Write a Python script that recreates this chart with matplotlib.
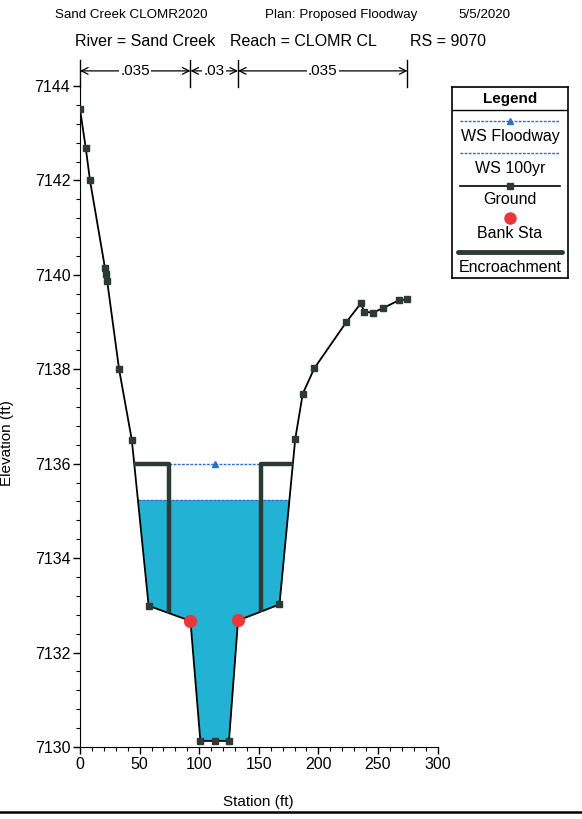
import matplotlib

matplotlib.use("Agg")
import matplotlib.pyplot as plt
import numpy as np
from matplotlib.ticker import AutoMinorLocator, MultipleLocator

plt.rcParams['font.family'] = ['Liberation Sans', 'DejaVu Sans']

# Ground profile (station ft, elevation ft)
station = [0.0, 4.8, 8.4, 21.0, 21.9, 22.8, 32.8, 43.5, 57.6, 92.7, 101.0, 113.0, 125.0,
           132.6, 167.4, 180.6, 186.9, 196.6, 223.5, 235.8, 238.3, 245.7, 254.0, 267.3, 274.8]
ground = [7143.51, 7142.69, 7142.0, 7140.14, 7140.02, 7139.87, 7138.0, 7136.5, 7132.99, 7132.67,
          7130.13, 7130.13, 7130.13, 7132.68, 7133.02, 7136.52, 7137.48, 7138.02, 7139.0, 7139.4,
          7139.22, 7139.2, 7139.29, 7139.46, 7139.48]

bank_sta = [92.7, 132.6]
ws_floodway = 7136.0
ws_100yr = 7135.24
encroach = [75.0, 152.0]

n_breaks = [0.0, 92.7, 132.6, 274.8]
n_labels = [".035", ".03", ".035"]

GROUND_C = "#2b3a33"
BLUE = "#2a6fc9"
WATER = "#22b3d4"


def crossing(xs, ys, elev, from_left=True):
    # first station where the ground crosses elev, searched from one side
    xs = np.asarray(xs)
    ys = np.asarray(ys)
    idx = range(len(xs) - 1) if from_left else range(len(xs) - 2, -1, -1)
    for i in idx:
        y0, y1 = ys[i], ys[i + 1]
        if (y0 - elev) * (y1 - elev) <= 0 and y0 != y1:
            return xs[i] + (elev - y0) * (xs[i + 1] - xs[i]) / (y1 - y0)
    return xs[0] if from_left else xs[-1]


fig = plt.figure(figsize=(5.82, 8.19), dpi=100)
ax = fig.add_axes([80 / 582, 1 - 747 / 819, (437.5 - 80) / 582, (747 - 86) / 819])

st = np.array(station)
gr = np.array(ground)

# 100yr water fill and line
ax.fill_between(st, gr, ws_100yr, where=gr <= ws_100yr, interpolate=True, color=WATER, lw=0, zorder=1)
wl = crossing(st, gr, ws_100yr, True)
wr = crossing(st, gr, ws_100yr, False)
ax.plot([wl, wr], [ws_100yr, ws_100yr], color=BLUE, lw=1, ls=(0, (2, 1)), zorder=2)

# floodway WS
ax.plot(encroach, [ws_floodway, ws_floodway], color=BLUE, lw=1, ls=(0, (2, 1)), zorder=2)
ax.plot([np.mean(encroach)], [ws_floodway], marker="^", color=BLUE, ms=5, zorder=2)

# ground
ax.plot(st, gr, color="black", lw=1.3, marker="s", ms=4.5, mfc=GROUND_C, mec=GROUND_C, zorder=3)

# encroachments
el = crossing(st, gr, ws_floodway, True)
er = crossing(st, gr, ws_floodway, False)
gl = np.interp(encroach[0], st, gr)
grr = np.interp(encroach[1], st, gr)
ax.plot([el, encroach[0], encroach[0]], [ws_floodway, ws_floodway, gl], color=GROUND_C, lw=3.2,
        solid_capstyle="butt", zorder=4)
ax.plot([er, encroach[1], encroach[1]], [ws_floodway, ws_floodway, grr], color=GROUND_C, lw=3.2,
        solid_capstyle="butt", zorder=4)

# bank stations
ax.plot(bank_sta, np.interp(bank_sta, st, gr), ls="none", marker="o", ms=8.5, color="#e8383c", zorder=5)

ax.set_xlim(0, 300)
ax.set_ylim(7130, 7144)
ax.xaxis.set_major_locator(MultipleLocator(50))
ax.xaxis.set_minor_locator(AutoMinorLocator(5))
ax.yaxis.set_major_locator(MultipleLocator(2))
ax.yaxis.set_minor_locator(AutoMinorLocator(5))
ax.tick_params(labelsize=11.5, length=5, width=1, pad=2)
ax.tick_params(which="minor", length=3, width=0.8)
ax.spines["top"].set_visible(False)
ax.spines["right"].set_visible(False)
ax.get_yaxis().get_major_formatter().set_useOffset(False)
ax.set_xlabel("Station (ft)", fontsize=11)
ax.set_ylabel("Elevation (ft)", fontsize=11)
ax.xaxis.set_label_coords(0.5, -0.072)
ax.yaxis.set_label_coords(-0.185, 0.46)

# Manning's n markers
y_top, y_bot, y_arr = 7144.55, 7143.98, 7144.32
for b in n_breaks:
    ax.plot([b, b], [y_bot, y_top], color="black", lw=1, clip_on=False)
for i, lab in enumerate(n_labels):
    a, b = n_breaks[i], n_breaks[i + 1]
    ax.annotate("", xy=(a, y_arr), xytext=(b, y_arr), annotation_clip=False,
                arrowprops=dict(arrowstyle="<->", color="black", lw=0.9, shrinkA=0, shrinkB=0,
                                mutation_scale=12))
    ax.text((a + b) / 2, y_arr, lab, ha="center", va="center", fontsize=11,
            bbox=dict(facecolor="white", edgecolor="none", pad=1), clip_on=False)

# header text
fig.text(55 / 582, 1 - 15 / 819, "Sand Creek CLOMR2020", fontsize=9.6, va="center")
fig.text(265 / 582, 1 - 15 / 819, "Plan: Proposed Floodway", fontsize=9.6, va="center")
fig.text(458 / 582, 1 - 15 / 819, "5/5/2020", fontsize=9.6, va="center")
fig.text(75 / 582, 1 - 42 / 819, "River = Sand Creek", fontsize=11.5, va="center")
fig.text(230 / 582, 1 - 42 / 819, "Reach = CLOMR CL", fontsize=11.5, va="center")
fig.text(410 / 582, 1 - 42 / 819, "RS = 9070", fontsize=11.5, va="center")

# legend box
lg = fig.add_axes([452 / 582, 1 - 278 / 819, 116 / 582, 191 / 819])
lg.set_xlim(0, 116)
lg.set_ylim(191, 0)
lg.set_xticks([])
lg.set_yticks([])
for s in lg.spines.values():
    s.set_linewidth(1.2)
lg.text(58, 12, "Legend", ha="center", va="center", fontsize=11, fontweight="bold")
lg.plot([0, 116], [23, 23], color="black", lw=1)
lg.plot([8, 108], [34, 34], color=BLUE, lw=1, ls=(0, (2, 1)))
lg.plot([58], [34], marker="^", color=BLUE, ms=4)
lg.text(58, 49, "WS Floodway", ha="center", va="center", fontsize=11.5)
lg.plot([8, 108], [66, 66], color=BLUE, lw=1, ls=(0, (2, 1)))
lg.text(58, 81, "WS 100yr", ha="center", va="center", fontsize=11.5)
lg.plot([8, 108], [99, 99], color="black", lw=1.2)
lg.plot([58], [99], marker="s", ms=4.5, color=GROUND_C)
lg.text(58, 113, "Ground", ha="center", va="center", fontsize=11.5)
lg.plot([58], [131], marker="o", ms=8, color="#e8383c")
lg.text(58, 146, "Bank Sta", ha="center", va="center", fontsize=11.5)
lg.plot([6, 110], [165, 165], color=GROUND_C, lw=3.5, solid_capstyle="round")
lg.text(58, 180, "Encroachment", ha="center", va="center", fontsize=11.5)

# bottom rule
fig.add_artist(plt.Line2D([0, 1], [1 - 812 / 819, 1 - 812 / 819], color="black", lw=1.8))

fig.savefig("out.png", dpi=100)
